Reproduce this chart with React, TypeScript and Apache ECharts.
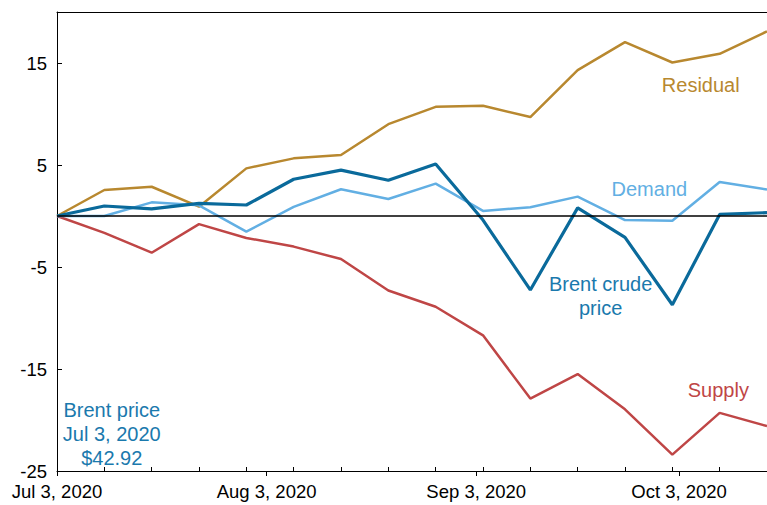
import React, { useEffect, useRef } from "react";
import * as echarts from "echarts";

const weekDates = [
  "2020-07-03", "2020-07-10", "2020-07-17", "2020-07-24", "2020-07-31",
  "2020-08-07", "2020-08-14", "2020-08-21", "2020-08-28", "2020-09-04",
  "2020-09-11", "2020-09-18", "2020-09-25", "2020-10-02", "2020-10-09",
  "2020-10-16",
];
const labelDates = ["2020-07-03", "2020-08-03", "2020-09-03", "2020-10-03"];
const labelTexts = ["Jul 3, 2020", "Aug 3, 2020", "Sep 3, 2020", "Oct 3, 2020"];
const yTickValues = [-25, -15, -5, 5, 15];

const residual = [0, 2.55, 2.87, 0.91, 4.67, 5.65, 5.98, 9.0, 10.7, 10.8, 9.7, 14.3, 17.05, 15.05, 15.9, 18.1];
const demand = [0, 0, 1.34, 1.05, -1.54, 0.9, 2.62, 1.67, 3.17, 0.5, 0.85, 1.9, -0.4, -0.46, 3.33, 2.6];
const supply = [0, -1.65, -3.6, -0.8, -2.15, -3.0, -4.22, -7.3, -8.9, -11.7, -17.9, -15.5, -18.95, -23.4, -19.3, -20.6];
const brent = [0, 0.98, 0.69, 1.24, 1.08, 3.6, 4.5, 3.5, 5.1, -0.4, -7.25, 0.8, -2.1, -8.7, 0.15, 0.33];

const FONT = "'Liberation Sans', Arial, sans-serif";
const C_RES = "#b8882f";
const C_DEM = "#62afe3";
const C_SUP = "#bf4646";
const C_BRENT = "#0a6a9b";
const C_BRENT_TXT = "#1a79ad";

const dayOf = (s: string) =>
  Math.round((Date.parse(s) - Date.parse(weekDates[0])) / 86400000);

const weekDays = weekDates.map(dayOf);
const labelDays = labelDates.map(dayOf);
const maxDay = weekDays[weekDays.length - 1];

const toPairs = (vals: number[]) => vals.map((v, i) => [weekDays[i], v]);

function annotation(text: string, coord: [number, number], color: string) {
  return {
    coord,
    symbol: "circle",
    symbolSize: 0,
    label: {
      show: true,
      position: "inside",
      formatter: text,
      color,
      fontSize: 20,
      fontFamily: FONT,
      lineHeight: 24,
      align: "center",
      verticalAlign: "middle",
    },
  };
}

export default function App() {
  const ref = useRef<HTMLDivElement>(null);

  useEffect(() => {
    if (!ref.current) return;
    const chart = echarts.init(ref.current, undefined, { renderer: "svg" });
    const lineSeries = (name: string, vals: number[], color: string, width: number, extra: any = {}) => ({
      name,
      type: "line",
      xAxisIndex: 0,
      yAxisIndex: 0,
      data: toPairs(vals),
      showSymbol: false,
      symbol: "none",
      lineStyle: { color, width },
      itemStyle: { color },
      silent: true,
      ...extra,
    });

    chart.setOption({
      animation: false,
      grid: { left: 57, right: 0, top: 12, bottom: 34, containLabel: false },
      xAxis: [
        {
          type: "value",
          position: "bottom",
          min: 0,
          max: maxDay,
          axisLine: { show: true, onZero: false, lineStyle: { color: "#000", width: 1 } },
          axisTick: { show: true, inside: true, length: 4, customValues: weekDays, lineStyle: { color: "#000" } },
          axisLabel: { show: false },
          splitLine: { show: false },
        },
        {
          type: "value",
          position: "bottom",
          min: 0,
          max: maxDay,
          axisLine: { show: false, onZero: false },
          axisTick: { show: true, inside: false, length: 5, customValues: labelDays, lineStyle: { color: "#000" } },
          axisLabel: {
            show: true,
            customValues: labelDays,
            formatter: (v: number) => {
              const i = labelDays.indexOf(Math.round(v));
              return i >= 0 ? labelTexts[i] : "";
            },
            color: "#000",
            fontSize: 18.5,
            fontFamily: FONT,
            margin: 11,
          },
          splitLine: { show: false },
        },
        {
          type: "value",
          position: "top",
          min: 0,
          max: maxDay,
          axisLine: { show: true, onZero: false, lineStyle: { color: "#000", width: 1 } },
          axisTick: { show: false },
          axisLabel: { show: false },
          splitLine: { show: false },
        },
      ],
      yAxis: {
        type: "value",
        min: -25,
        max: 20,
        axisLine: { show: true, onZero: false, lineStyle: { color: "#000", width: 1 } },
        axisTick: { show: true, inside: true, length: 5, customValues: yTickValues, lineStyle: { color: "#000" } },
        axisLabel: {
          show: true,
          customValues: yTickValues,
          color: "#000",
          fontSize: 18.5,
          fontFamily: FONT,
          margin: 10,
        },
        splitLine: { show: false },
      },
      series: [
        lineSeries("Residual", residual, C_RES, 2.5, {
          markPoint: { silent: true, data: [annotation("Residual", [95.2, 12.8], C_RES)] },
        }),
        lineSeries("Supply", supply, C_SUP, 2.5, {
          markPoint: { silent: true, data: [annotation("Supply", [97.8, -17.1], C_SUP)] },
        }),
        lineSeries("Demand", demand, C_DEM, 2.5, {
          markPoint: { silent: true, data: [annotation("Demand", [87.6, 2.6], C_DEM)] },
          markLine: {
            silent: true,
            symbol: "none",
            label: { show: false },
            lineStyle: { color: "#000", width: 1.6, type: "solid" },
            data: [{ yAxis: 0 }],
          },
        }),
        lineSeries("Brent crude price", brent, C_BRENT, 3.2, {
          markPoint: {
            silent: true,
            data: [
              annotation("Brent crude\nprice", [80.4, -7.8], C_BRENT_TXT),
              annotation("Brent price\nJul 3, 2020\n$42.92", [8.1, -21.35], C_BRENT_TXT),
            ],
          },
        }),
      ],
    });
    return () => chart.dispose();
  }, []);

  return (
    <div
      ref={ref}
      style={{ position: "absolute", left: 0, top: 0, width: 767, height: 505, background: "#fff" }}
    />
  );
}
